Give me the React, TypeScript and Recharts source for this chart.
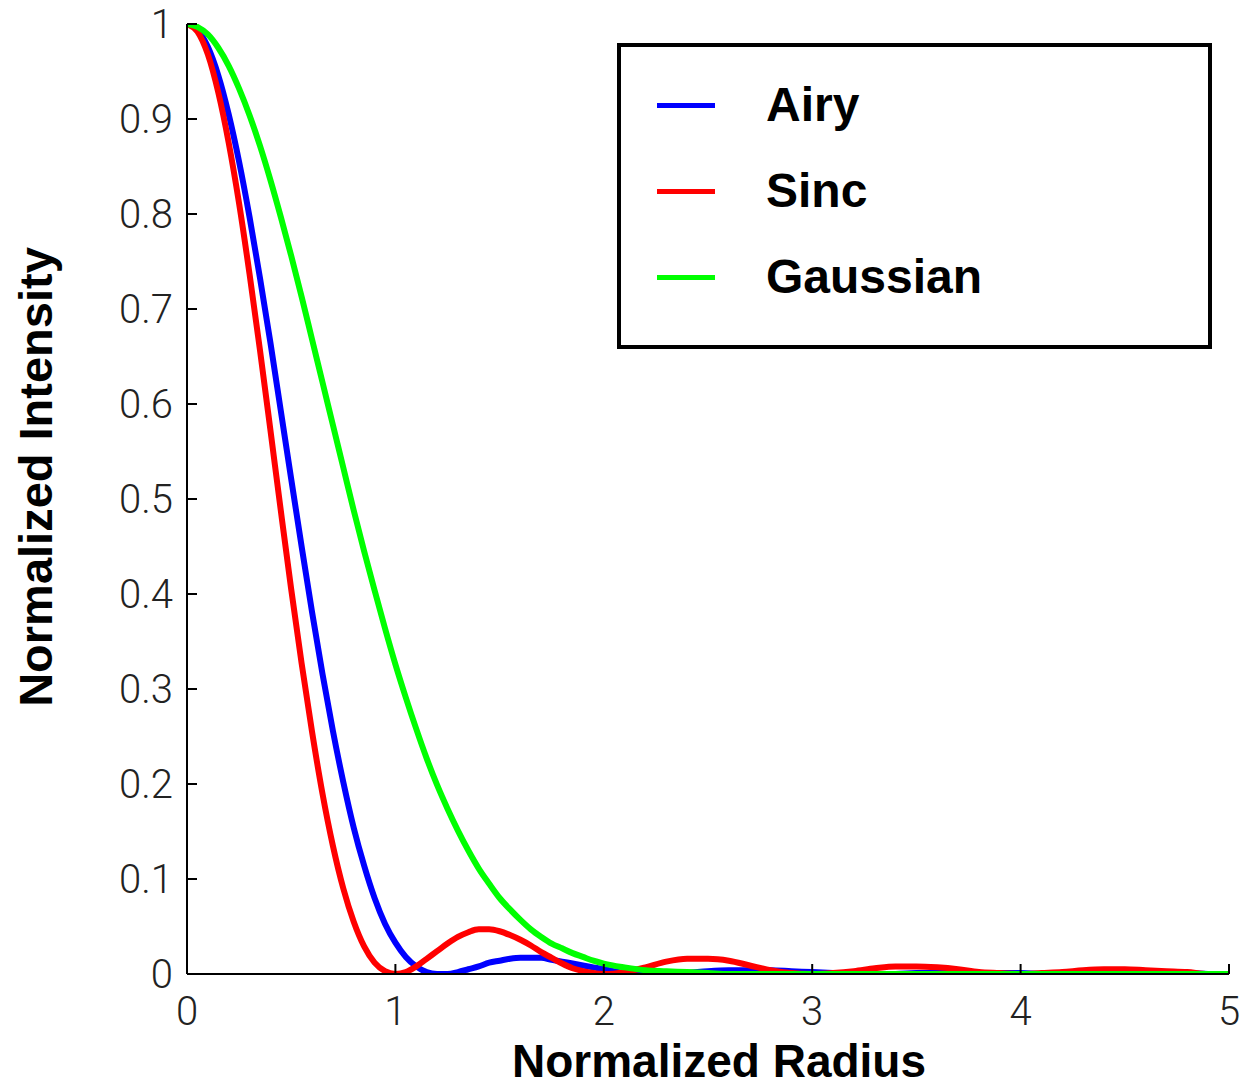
import React from 'react';
import { LineChart, Line, XAxis, YAxis, Legend } from 'recharts';

// normalized radius samples (finer near the main lobe)
const radius = [
  0, 0.05, 0.1, 0.15, 0.2, 0.25, 0.3, 0.35, 0.4, 0.45, 0.5, 0.55, 0.6, 0.65, 0.7, 0.75, 0.8, 0.85, 0.9, 0.95,
  1, 1.05, 1.1, 1.15, 1.2, 1.25, 1.3, 1.35, 1.4, 1.45, 1.5, 1.55, 1.6, 1.65, 1.7, 1.75, 1.8, 1.85, 1.9, 1.95,
  2, 2.1, 2.2, 2.3, 2.4, 2.5, 2.6, 2.7, 2.8, 2.9, 3, 3.1, 3.2, 3.3, 3.4, 3.5, 3.6, 3.7, 3.8, 3.9,
  4, 4.1, 4.2, 4.3, 4.4, 4.5, 4.6, 4.7, 4.8, 4.9, 5,
];

const airy = [
  1, 0.994, 0.976, 0.946, 0.905, 0.855, 0.797, 0.733, 0.665, 0.593, 0.521, 0.45, 0.381, 0.316, 0.256, 0.202, 0.154, 0.114, 0.08, 0.053,
  0.033, 0.018, 0.008, 0.002, 0, 0, 0.002, 0.005, 0.008, 0.012, 0.014, 0.016, 0.017, 0.017, 0.017, 0.015, 0.013, 0.011, 0.009, 0.007,
  0.005, 0.001, 0, 0, 0.001, 0.003, 0.004, 0.004, 0.004, 0.003, 0.002, 0.001, 0, 0, 0, 0.001, 0.001, 0.002, 0.001, 0.001,
  0.001, 0, 0, 0, 0, 0, 0.001, 0.001, 0.001, 0, 0,
];

const sinc = [
  1, 0.992, 0.968, 0.928, 0.875, 0.811, 0.737, 0.657, 0.573, 0.488, 0.405, 0.327, 0.255, 0.19, 0.135, 0.09, 0.055, 0.029, 0.012, 0.003,
  0, 0.002, 0.008, 0.016, 0.024, 0.032, 0.039, 0.044, 0.047, 0.047, 0.045, 0.041, 0.036, 0.03, 0.023, 0.017, 0.011, 0.006, 0.003, 0.001,
  0, 0.002, 0.007, 0.013, 0.016, 0.016, 0.014, 0.009, 0.004, 0.001, 0, 0.001, 0.003, 0.006, 0.008, 0.008, 0.007, 0.005, 0.002, 0.001,
  0, 0.001, 0.002, 0.004, 0.005, 0.005, 0.004, 0.003, 0.002, 0, 0,
];

const gaussian = [
  1, 0.997, 0.989, 0.975, 0.956, 0.932, 0.904, 0.872, 0.836, 0.797, 0.756, 0.713, 0.668, 0.623, 0.578, 0.533, 0.488, 0.445, 0.404, 0.364,
  0.326, 0.291, 0.258, 0.227, 0.199, 0.174, 0.151, 0.13, 0.111, 0.095, 0.08, 0.068, 0.057, 0.047, 0.039, 0.032, 0.027, 0.022, 0.018, 0.014,
  0.011, 0.007, 0.004, 0.003, 0.002, 0.001, 0, 0, 0, 0, 0, 0, 0, 0, 0, 0, 0, 0, 0, 0,
  0, 0, 0, 0, 0, 0, 0, 0, 0, 0, 0,
];

const xTicks = [0, 1, 2, 3, 4, 5];
const yTicks = [0, 0.1, 0.2, 0.3, 0.4, 0.5, 0.6, 0.7, 0.8, 0.9, 1];

const seriesNames = ['Airy', 'Sinc', 'Gaussian'];
const seriesColors = ['#0000ff', '#ff0000', '#00ff00'];

const data = radius.map((r, i) => ({
  r,
  Airy: airy[i],
  Sinc: sinc[i],
  Gaussian: gaussian[i],
}));

const TICK_LEN = 10;
const tickFont = { fontFamily: 'Roboto, "Liberation Sans", Arial, sans-serif', fontWeight: 300, fontSize: 40, fill: '#222' };
const boldFont = '"Liberation Sans", Arial, Helvetica, sans-serif';

const fmtY = (v: number) => (v === 0 || v === 1 ? String(v) : v.toFixed(1));

const BottomTick = (props: any) => {
  const { x, y, payload } = props;
  return (
    <g>
      <line x1={x} x2={x} y1={y} y2={y - TICK_LEN} stroke="#000" strokeWidth={2} />
      <text x={x} y={y + 51} textAnchor="middle" {...tickFont}>{payload.value}</text>
    </g>
  );
};

const LeftTick = (props: any) => {
  const { x, y, payload } = props;
  return (
    <g>
      <line x1={x} x2={x + TICK_LEN} y1={y} y2={y} stroke="#000" strokeWidth={2} />
      <text x={x - 14} y={y + 14} textAnchor="end" {...tickFont}>{fmtY(payload.value)}</text>
    </g>
  );
};

const TopTick = (props: any) => {
  const { x, y } = props;
  return <line x1={x} x2={x} y1={y} y2={y + TICK_LEN} stroke="#000" strokeWidth={2} />;
};

const RightTick = (props: any) => {
  const { x, y } = props;
  return <line x1={x} x2={x - TICK_LEN} y1={y} y2={y} stroke="#000" strokeWidth={2} />;
};

const XTitle = (props: any) => {
  const vb = props.viewBox;
  return (
    <text x={vb.x + vb.width / 2 + 11} y={vb.y + 103} textAnchor="middle"
      fontFamily={boldFont} fontWeight="bold" fontSize={46} fill="#000">
      Normalized Radius
    </text>
  );
};

const YTitle = (props: any) => {
  const vb = props.viewBox;
  const cx = vb.x + 52;
  const cy = vb.y + vb.height / 2 - 22;
  return (
    <text x={cx} y={cy} transform={`rotate(-90 ${cx} ${cy})`} textAnchor="middle"
      fontFamily={boldFont} fontWeight="bold" fontSize={47} fill="#000">
      Normalized Intensity
    </text>
  );
};

const LegendBox = () => (
  <div style={{
    width: 595, height: 306, border: '4px solid #000', boxSizing: 'border-box',
    background: '#fff', paddingTop: 15,
  }}>
    {seriesNames.map((name, i) => (
      <div key={name} style={{ height: 86, display: 'flex', alignItems: 'center' }}>
        <div style={{ marginLeft: 36, width: 58, height: 5, background: seriesColors[i] }} />
        <span style={{
          marginLeft: 51, fontFamily: boldFont, fontWeight: 'bold', fontSize: 48,
          lineHeight: 1, color: '#000',
        }}>{name}</span>
      </div>
    ))}
  </div>
);

export default function App() {
  return (
    <div style={{ position: 'absolute', left: 0, top: 0, width: 1241, height: 1088, background: '#fff' }}>
      <LineChart width={1241} height={1088} data={data} margin={{ top: 24, right: 12, bottom: 0, left: 0 }}>
        <XAxis dataKey="r" type="number" domain={[0, 5]} ticks={xTicks} allowDataOverflow
          height={114} tickSize={0} tickMargin={0} tickLine={false}
          axisLine={{ stroke: '#000', strokeWidth: 2 }} tick={<BottomTick />} interval={0}
          label={{ content: <XTitle /> }} />
        <XAxis xAxisId="top" orientation="top" type="number" domain={[0, 5]} ticks={xTicks} allowDataOverflow
          height={0} tickSize={0} tickMargin={0} tickLine={false}
          axisLine={{ stroke: '#000', strokeWidth: 2 }} tick={<TopTick />} interval={0} />
        <YAxis type="number" domain={[0, 1]} ticks={yTicks} allowDataOverflow
          width={187} tickSize={0} tickMargin={0} tickLine={false}
          axisLine={{ stroke: '#000', strokeWidth: 2 }} tick={<LeftTick />} interval={0}
          label={{ content: <YTitle /> }} />
        <YAxis yAxisId="right" orientation="right" type="number" domain={[0, 1]} ticks={yTicks} allowDataOverflow
          width={0} tickSize={0} tickMargin={0} tickLine={false}
          axisLine={{ stroke: '#000', strokeWidth: 2 }} tick={<RightTick />} interval={0} />
        {seriesNames.map((name, i) => (
          <Line key={name} dataKey={name} name={name} type="monotone" stroke={seriesColors[i]}
            strokeWidth={6} dot={false} isAnimationActive={false} />
        ))}
        <Legend layout="vertical" align="center" verticalAlign="middle" content={<LegendBox />}
          wrapperStyle={{ left: 617, top: 43, width: 595, height: 306 }} />
      </LineChart>
    </div>
  );
}
